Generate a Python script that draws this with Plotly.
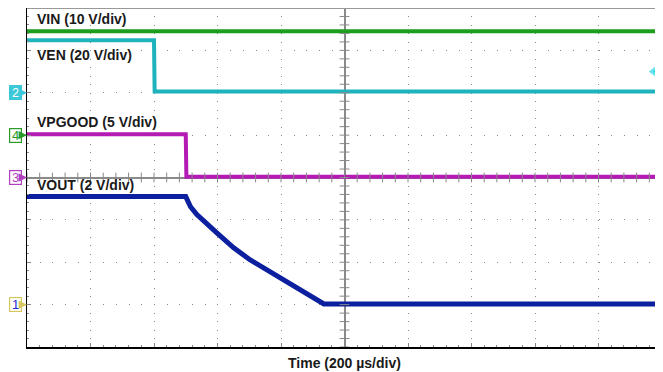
import numpy as np
import plotly.graph_objects as go

# time base: 200 us/div, 10 divs; screen is 8 vertical divs
t_range = [-1000, 1000]

# channel settings (volts per div, ground marker position in divs from centre)
vin_scale, vin_offset = 10, 1
ven_scale, ven_offset = 20, 2
vpg_scale, vpg_offset = 5, 0
vout_scale, vout_offset = 2, -3
ven_trigger = 10

# waveforms (time in us, volts)
vin_t = [-1000, 1000]
vin_v = [24.5, 24.5]

ven_t = [-1000, -600, -598, 1000]
ven_v = [24.8, 24.8, 0.6, 0.6]

vpg_t = [-1000, -500, -498, 1000]
vpg_v = [5.1, 5.1, 0.1, 0.1]

vout_t = [-1000, -500, -485, -465, -403, -350, -298, -245, -194, -140, -72, -65, 1000]
vout_v = [5.1, 5.1, 4.62, 4.25, 3.40, 2.69, 2.12, 1.65, 1.18, 0.71, 0.09, 0.03, 0.03]

labels = ["VIN (10 V/div)", "VEN (20 V/div)", "VPGOOD (5 V/div)", "VOUT (2 V/div)"]
label_y = [3.74, 2.89, 1.31, -0.18]


def to_div(v, scale, offset):
    return [offset + x / scale for x in v]


fig = go.Figure()

traces = [
    (vin_t, vin_v, vin_scale, vin_offset, "#1c9e1c", "VIN", 4),
    (ven_t, ven_v, ven_scale, ven_offset, "#1fb3bd", "VEN", 4),
    (vpg_t, vpg_v, vpg_scale, vpg_offset, "#b41ab4", "VPGOOD", 4),
    (vout_t, vout_v, vout_scale, vout_offset, "#0c1f9e", "VOUT", 5),
]
for t, v, sc, off, col, name, w in traces:
    fig.add_trace(go.Scatter(x=t, y=to_div(v, sc, off), mode="lines", name=name,
                             line=dict(color=col, width=w), hoverinfo="skip"))

# small ticks on the centre cross
tx = np.arange(-1000, 1001, 40)
ty = np.arange(-4, 4.01, 0.2)
fig.add_trace(go.Scatter(x=tx, y=np.zeros(len(tx)), mode="markers", hoverinfo="skip",
                         marker=dict(symbol="line-ns-open", size=7, color="#888",
                                     line=dict(color="#888", width=1))))
fig.add_trace(go.Scatter(x=np.zeros(len(ty)), y=ty, mode="markers", hoverinfo="skip",
                         marker=dict(symbol="line-ew-open", size=7, color="#888",
                                     line=dict(color="#888", width=1))))

# trigger level indicator at the right edge
trig_y = ven_offset + ven_trigger / ven_scale
fig.add_trace(go.Scatter(x=[972, 1000], y=[trig_y, trig_y], mode="lines+markers",
                         hoverinfo="skip", cliponaxis=False,
                         line=dict(color="#30d8e8", width=2),
                         marker=dict(symbol="triangle-left", size=[10, 0], color="#30d8e8")))

font = "Liberation Sans, Arial, sans-serif"
for txt, y in zip(labels, label_y):
    fig.add_annotation(x=0, xref="paper", y=y, yref="y", xanchor="left", xshift=8,
                       text="<b>" + txt + "</b>", showarrow=False,
                       font=dict(family=font, size=14, color="#1a1a1a"))

fig.add_annotation(x=0.5, xref="paper", y=0, yref="paper", yanchor="top", yshift=-6,
                   text="<b>Time (200 µs/div)</b>", showarrow=False,
                   font=dict(family=font, size=14, color="#1a1a1a"))

# channel ground markers on the left (boxed number with a pointer into the screen)
markers = [
    ("2", ven_offset, "#3cc8d8", "#3cc8d8", "white"),
    ("4", vin_offset, "white", "#2a9a2a", "#2a9a2a"),
    ("3", vpg_offset, "white", "#b040c0", "#b040c0"),
    ("1", vout_offset, "white", "#d6c860", "#1a2ad0"),
]
for num, off, fill, edge, tc in markers:
    fig.add_annotation(x=0, xref="paper", y=off, yref="y", ax=-12, ay=0, text=num,
                       showarrow=True, arrowhead=2, arrowsize=1.4, arrowwidth=1.2,
                       arrowcolor=edge, standoff=0, startstandoff=0,
                       bgcolor=fill, bordercolor=edge, borderwidth=1.2, borderpad=0,
                       width=11, height=13, align="center",
                       font=dict(family=font, size=13, color=tc))

# top and right frame edges
fig.add_shape(type="line", xref="paper", yref="paper", x0=0, x1=1, y0=1, y1=1,
              line=dict(color="#999", width=2))
fig.add_shape(type="line", xref="paper", yref="paper", x0=1, x1=1, y0=0, y1=1,
              line=dict(color="#999", width=2))

fig.update_xaxes(range=t_range, dtick=200, showticklabels=False,
                 showgrid=True, gridcolor="#8a8a8a", gridwidth=1, griddash="1px,7.47px",
                 zeroline=True, zerolinecolor="#8a8a8a", zerolinewidth=2,
                 showline=True, linecolor="black", linewidth=2,
                 ticks="inside", ticklen=4, tickcolor="#888",
                 minor=dict(dtick=40, ticks="inside", ticklen=2, tickcolor="#888"))
fig.update_yaxes(range=[-4, 4], dtick=1, showticklabels=False,
                 showgrid=True, gridcolor="#8a8a8a", gridwidth=1, griddash="1px,11.7px",
                 zeroline=True, zerolinecolor="#8a8a8a", zerolinewidth=2,
                 showline=True, linecolor="black", linewidth=1,
                 ticks="inside", ticklen=4, tickcolor="#888",
                 minor=dict(dtick=0.2, ticks="inside", ticklen=2, tickcolor="#888"))

# page body has an 8px margin, so the figure is sized to the remaining window
fig.update_layout(width=655, height=364, margin=dict(l=19, r=1, t=0, b=25),
                  paper_bgcolor="white", plot_bgcolor="white", showlegend=False)

fig.write_html("out.html")
